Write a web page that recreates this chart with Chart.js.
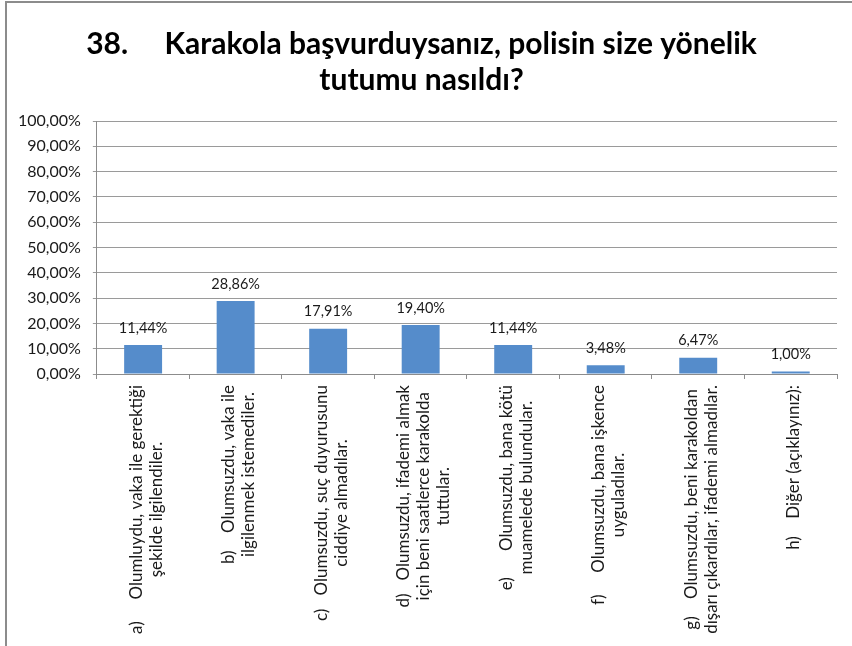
<!DOCTYPE html>
<html>
<head>
<meta charset="utf-8">
<script src="https://cdn.jsdelivr.net/npm/chart.js@4"></script>
<style>
  html, body { margin: 0; padding: 0; background: #fff; }
  #wrap { position: relative; width: 852px; height: 646px; }
  #frame { position: absolute; left: 5px; top: 1px; right: 0; bottom: 0;
           border-top: 2px solid #8c8c8c; border-left: 2px solid #8c8c8c; pointer-events: none; }
</style>
</head>
<body>
<div id="wrap">
  <canvas id="grafica" width="852" height="646"></canvas>
  <div id="frame"></div>
</div>
<script>
// datos
const categorias = [
  ['a)     Olumluydu, vaka ile gerektiği', 'şekilde ilgilendiler.'],
  ['b)    Olumsuzdu, vaka ile', 'ilgilenmek istemediler.'],
  ['c)   Olumsuzdu, suç duyurusunu', 'ciddiye almadılar.'],
  ['d)   Olumsuzdu, ifademi almak', 'için beni saatlerce karakolda', 'tuttular.'],
  ['e)      Olumsuzdu, bana kötü', 'muamelede bulundular.'],
  ['f)     Olumsuzdu, bana işkence', 'uyguladılar.'],
  ['g)    Olumsuzdu, beni karakoldan', 'dışarı çıkardılar, ifademi almadılar.'],
  ['h)    Diğer (açıklayınız):']
];
const valores = [11.44, 28.86, 17.91, 19.40, 11.44, 3.48, 6.47, 1.00];
const titulo = ['38.     Karakola başvurduysanız, polisin size yönelik', 'tutumu nasıldı?'];

const fuente = 'Lato';
const colorTexto = '#1a1a1a';

const fmt = v => v.toFixed(2).replace('.', ',') + '%';

// etiquetas de valor encima de las barras
const etiquetasValor = {
  id: 'etiquetasValor',
  afterDatasetsDraw(chart) {
    const ctx = chart.ctx;
    const meta = chart.getDatasetMeta(0);
    ctx.save();
    ctx.font = '14.5px ' + fuente;
    ctx.fillStyle = colorTexto;
    ctx.textAlign = 'center';
    ctx.textBaseline = 'middle';
    meta.data.forEach((bar, i) => {
      ctx.fillText(fmt(valores[i]), bar.x, bar.y - 17);
    });
    ctx.restore();
  }
};

// etiquetas del eje x giradas, lineas centradas
const etiquetasX = {
  id: 'etiquetasX',
  afterDraw(chart) {
    const ctx = chart.ctx;
    const x = chart.scales.x;
    const lh = 20;
    ctx.save();
    ctx.font = '17px ' + fuente;
    ctx.fillStyle = colorTexto;
    ctx.textAlign = 'center';
    ctx.textBaseline = 'middle';
    categorias.forEach((lineas, i) => {
      const px = x.getPixelForValue(i) + 3;
      const w = Math.max(...lineas.map(l => ctx.measureText(l).width));
      const cy = x.bottom + 6 + w / 2;
      ctx.save();
      ctx.translate(px, cy);
      ctx.rotate(-Math.PI / 2);
      lineas.forEach((l, j) => ctx.fillText(l, 0, (j - (lineas.length - 1) / 2) * lh));
      ctx.restore();
    });
    ctx.restore();
  }
};

Chart.defaults.font.family = fuente;
Chart.defaults.color = colorTexto;

new Chart('grafica', {
  type: 'bar',
  data: {
    labels: categorias.map(c => c.join(' ')),
    datasets: [{
      data: valores,
      backgroundColor: '#558ccb',
      borderWidth: 0,
      categoryPercentage: 1,
      barPercentage: 0.41
    }]
  },
  options: {
    responsive: false,
    animation: false,
    layout: { padding: { left: 6, right: 15, top: 0, bottom: 267 } },
    plugins: {
      legend: { display: false },
      tooltip: { enabled: false },
      title: {
        display: true,
        text: titulo,
        color: '#000',
        font: { family: fuente, size: 30, weight: 'bold', lineHeight: 1.2 },
        padding: { top: 26, bottom: 23 }
      }
    },
    scales: {
      x: {
        grid: { drawOnChartArea: false, drawTicks: true, tickLength: 5, color: '#8c8c8c' },
        border: { color: '#8c8c8c' },
        ticks: { display: false }
      },
      y: {
        min: 0,
        max: 100,
        ticks: { stepSize: 10, padding: 12, font: { size: 16 }, callback: v => fmt(v) },
        grid: { color: '#9a9a9a', tickLength: 4 },
        border: { color: '#8c8c8c' }
      }
    }
  },
  plugins: [etiquetasValor, etiquetasX]
});
</script>
</body>
</html>
